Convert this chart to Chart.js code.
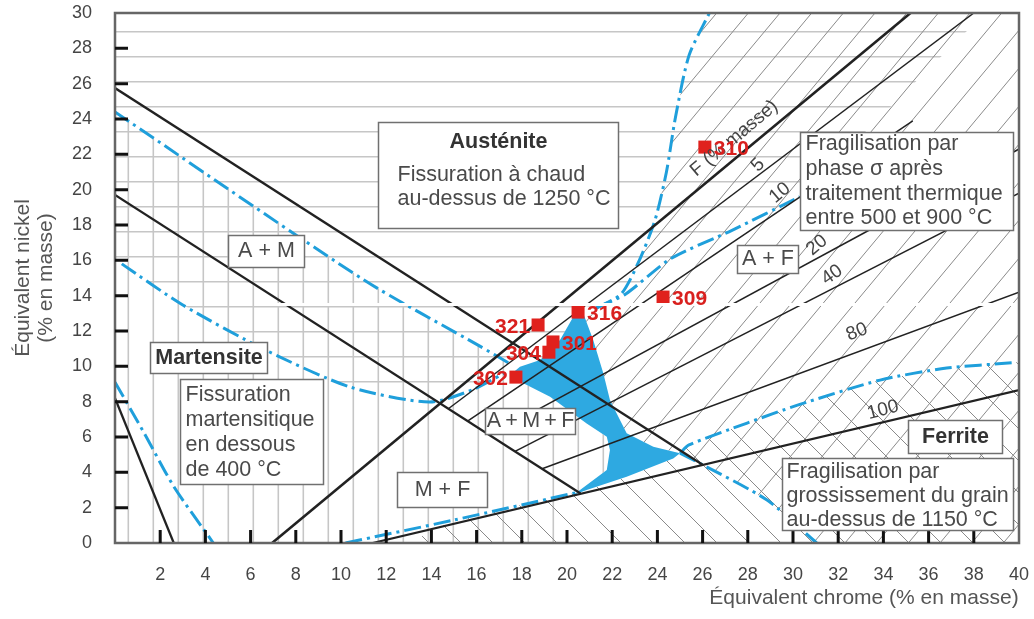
<!DOCTYPE html>
<html>
<head>
<meta charset="utf-8">
<script src="https://cdn.jsdelivr.net/npm/chart.js@4.4.1/dist/chart.umd.min.js"></script>
<style>
  html, body { margin: 0; padding: 0; background: #fff; }
  #wrap { width: 1034px; height: 619px; }
</style>
</head>
<body>
<div id="wrap"><canvas id="schaeffler"></canvas></div>
<script>
// Graduations des axes
const crTicks = [2, 4, 6, 8, 10, 12, 14, 16, 18, 20, 22, 24, 26, 28, 30, 32, 34, 36, 38];
const niTicks = [2, 4, 6, 8, 10, 12, 14, 16, 18, 20, 22, 24, 26, 28];

// Limites de phases [Cr eq, Ni eq]
const limiteAM = [[0, 25.75], [26.0, 4.43]];
const limiteM = [[0, 19.7], [20.6, 2.8]];
const limiteMF = [[0, 8.2], [2.6, 0]];
const ferrite0 = [[6.95, 0], [35.2, 30]];
const ferrite5 = [[14.75, 7.6], [38, 30]];
const ferrite10 = [[15.6, 6.9], [35.3, 23.9]];
const ferrite20 = [[16.6, 6.09], [40, 22.3]];
const ferrite40 = [[17.7, 5.19], [40, 19.8]];
const ferrite80 = [[18.9, 4.2], [40, 14.2]];
const ferrite100 = [[11.4, 0], [40, 8.66]];

// Courbes bleues (tirets-points)
const msHaut = [[0, 24.4], [11, 14.9], [16.2, 11.1], [17.4, 10.2]];
const msBas = [[0.3, 15.8], [3, 13.47], [6.7, 10.9], [10.4, 8.83], [13.9, 7.98], [15.8, 8.66], [17.2, 9.6]];
const msGauche = [[0, 9.1], [1.3, 6.2], [2.6, 3.2], [4.35, 0]];
const fissChaud = [[21.3, 13.3], [22.4, 14.1], [23.2, 16.0], [23.9, 18.3], [24.4, 21.0], [24.8, 24.1], [25.4, 27.6], [26.3, 30]];
const sigma = [[21.3, 13.3], [22.6, 14.1], [24.6, 16.1], [27.3, 17.7], [30.3, 19.6]];
const grainHaut = [[25.0, 5.08], [25.4, 5.55], [27.97, 6.79], [30.2, 7.8], [33.85, 9.22], [36.8, 9.9], [39.7, 10.2]];
const grainBas = [[25.0, 5.08], [26.0, 4.43], [28.85, 2.43], [30.9, 0.17], [31.05, 0]];
const bordInf = [[10.2, 0], [15, 1.3], [20.4, 2.85]];

// Zone bleue (domaine sans défaut)
const zoneBleue = [[20.58, 13.47], [21.16, 11.49], [21.61, 9.6], [21.9, 8.09], [22.64, 6.21], [23.82, 5.45],
  [25.0, 5.08], [24.7, 4.79], [22.64, 3.75], [20.87, 3.0], [20.28, 2.72], [21.76, 4.13], [21.9, 5.26],
  [21.76, 6.02], [20.87, 6.77], [19.25, 8.28], [18.07, 9.04], [17.48, 9.51], [17.92, 9.98], [18.81, 10.36],
  [19.69, 11.49], [20.28, 12.81]];

// Nuances d'aciers
const nuances = ['310', '309', '316', '321', '301', '304', '302'];
const nuanceCr = [26.1, 24.25, 20.49, 18.72, 19.38, 19.2, 17.74];
const nuanceNi = [22.41, 13.92, 13.07, 12.34, 11.38, 10.8, 9.39];
const nuanceCote = ['d', 'd', 'd', 'g', 'd', 'g', 'g'];

const bleu = '#1f9fdb';
const police = '"Liberation Sans", Arial, sans-serif';

function pts(arr) {
    return arr.map(p => ({ x: p[0], y: p[1] }));
}
function trait(arr, w) {
    return { data: pts(arr), showLine: true, borderColor: '#222', borderWidth: w, pointRadius: 0, fill: false, tension: 0, order: 1 };
}
function tiret(arr) {
    return { data: pts(arr), showLine: true, borderColor: bleu, borderWidth: 3, borderDash: [17, 5, 3, 5], pointRadius: 0, fill: false, tension: 0.25, order: 2 };
}

// Zones hachurées
const zoneVert = [[0, 0]].concat(msHaut, [zoneBleue[17], zoneBleue[16], zoneBleue[15], zoneBleue[14], zoneBleue[13], zoneBleue[12], zoneBleue[11], zoneBleue[10]], [[20.3, 0]]);
const zoneHoriz = [[0, 30], [0, 15.8]].concat(msBas, zoneBleue.slice(17), [zoneBleue[0]], sigma, [[38.5, 30]]);
const zoneSlash = fissChaud.slice().reverse().concat(zoneBleue.slice(0, 7), grainBas.slice(1), [[40, 0], [40, 30]]);
const zoneAnti = [[13, 0]].concat(bordInf.slice(1), [zoneBleue[9], zoneBleue[8], zoneBleue[7]], grainHaut, [[40, 10.25], [40, 0]]);

// Cadres de texte : coin haut-gauche en coordonnées du diagramme, taille en pixels
const cadres = [
    { cr: 11.64, ni: 23.83, w: 240, h: 106, l: [{ t: 'Austénite', b: 1, c: 1, dy: 20 }, { t: 'Fissuration à chaud', dx: 19, dy: 53 }, { t: 'au-dessus de 1250 °C', dx: 19, dy: 77 }] },
    { cr: 5.0, ni: 17.43, w: 76, h: 32, l: [{ t: 'A + M', c: 1, dy: 16 }] },
    { cr: 1.55, ni: 11.38, w: 117, h: 31, l: [{ t: 'Martensite', b: 1, c: 1, dy: 16 }] },
    { cr: 2.88, ni: 9.28, w: 143, h: 105, l: [{ t: 'Fissuration', dx: 5, dy: 16 }, { t: 'martensitique', dx: 5, dy: 41 }, { t: 'en dessous', dx: 5, dy: 66 }, { t: 'de 400 °C', dx: 5, dy: 91 }] },
    { cr: 16.37, ni: 7.64, w: 90, h: 26, l: [{ t: 'A\u2009+\u2009M\u2009+\u2009F', c: 1, dy: 13 }] },
    { cr: 12.48, ni: 4.02, w: 90, h: 35, l: [{ t: 'M + F', c: 1, dy: 18 }] },
    { cr: 27.52, ni: 16.86, w: 61, h: 28, l: [{ t: 'A + F', c: 1, dy: 14 }] },
    { cr: 30.31, ni: 23.26, w: 213, h: 98, l: [{ t: 'Fragilisation par', dx: 5, dy: 12 }, { t: 'phase σ après', dx: 5, dy: 37 }, { t: 'traitement thermique', dx: 5, dy: 62 }, { t: 'entre 500 et 900 °C', dx: 5, dy: 86 }] },
    { cr: 35.09, ni: 6.96, w: 94, h: 33, l: [{ t: 'Ferrite', b: 1, c: 1, dy: 17 }] },
    { cr: 29.51, ni: 4.81, w: 231, h: 72, l: [{ t: 'Fragilisation par', dx: 4, dy: 14 }, { t: 'grossissement du grain', dx: 4, dy: 38 }, { t: 'au-dessus de 1150 °C', dx: 4, dy: 62 }] }
];

// Étiquettes des lignes d'iso-ferrite
const etiquettes = [
    { t: 'F (% masse)', cr: 27.4, ni: 22.9, a: -40 },
    { t: '5', cr: 28.45, ni: 21.39, a: -45 },
    { t: '10', cr: 29.42, ni: 19.81, a: -40 },
    { t: '20', cr: 31.06, ni: 16.86, a: -40 },
    { t: '40', cr: 31.73, ni: 15.17, a: -35 },
    { t: '80', cr: 32.83, ni: 11.94, a: -22 },
    { t: '100', cr: 33.98, ni: 7.53, a: -15 }
];

const dessin = {
    id: 'dessin',
    beforeDatasetsDraw(chart) {
        const { ctx, chartArea: a, scales: { x, y } } = chart;
        const chemin = arr => {
            ctx.beginPath();
            arr.forEach((p, i) => {
                const px = x.getPixelForValue(p[0]), py = y.getPixelForValue(p[1]);
                if (i) ctx.lineTo(px, py); else ctx.moveTo(px, py);
            });
            ctx.closePath();
        };
        function hachure(poly, type) {
            ctx.save();
            ctx.beginPath();
            ctx.rect(a.left, a.top, a.width, a.height);
            ctx.clip();
            chemin(poly);
            ctx.clip();
            ctx.beginPath();
            if (type === 'h') {
                for (let yy = a.top + 18.7; yy < a.bottom; yy += 25) { ctx.moveTo(a.left, yy); ctx.lineTo(a.right, yy); }
                ctx.strokeStyle = '#c6c6c6'; ctx.lineWidth = 1.6;
            } else if (type === 'v') {
                for (let xx = a.left + 13.3; xx < a.right; xx += 25) { ctx.moveTo(xx, a.top); ctx.lineTo(xx, a.bottom); }
                ctx.strokeStyle = '#c6c6c6'; ctx.lineWidth = 1.6;
            } else if (type === '/') {
                for (let c = a.top; c < a.bottom + 1.2 * a.width; c += 38) { ctx.moveTo(a.left, c); ctx.lineTo(a.right, c - 1.2 * a.width); }
                ctx.strokeStyle = '#8a8a8a'; ctx.lineWidth = 1;
            } else {
                for (let c = a.top - a.width; c < a.bottom; c += 32) { ctx.moveTo(a.left, c); ctx.lineTo(a.right, c + a.width); }
                ctx.strokeStyle = '#8a8a8a'; ctx.lineWidth = 1;
            }
            ctx.stroke();
            ctx.restore();
        }
        hachure(zoneHoriz, 'h');
        hachure(zoneVert, 'v');
        hachure(zoneSlash, '/');
        hachure(zoneAnti, '\\');

        ctx.save();
        chemin(zoneBleue);
        ctx.fillStyle = '#2ea9e1';
        ctx.fill();
        ctx.restore();
    },
    afterDatasetsDraw(chart) {
        const { ctx, chartArea: a, scales: { x, y } } = chart;
        ctx.save();

        // bande blanche du scan
        ctx.fillStyle = '#fff';
        ctx.fillRect(277, 303, 1034 - 277, 3);

        // cadre
        ctx.strokeStyle = '#666';
        ctx.lineWidth = 2.5;
        ctx.strokeRect(a.left, a.top, a.width, a.height);

        // graduations
        ctx.strokeStyle = '#111';
        ctx.lineWidth = 3;
        ctx.beginPath();
        niTicks.forEach(v => { const py = y.getPixelForValue(v); ctx.moveTo(a.left, py); ctx.lineTo(a.left + 13, py); });
        crTicks.forEach(v => { const px = x.getPixelForValue(v); ctx.moveTo(px, a.bottom); ctx.lineTo(px, a.bottom - 13); });
        ctx.stroke();

        // étiquettes des lignes
        ctx.fillStyle = '#444';
        ctx.font = '19px ' + police;
        ctx.textAlign = 'center';
        ctx.textBaseline = 'middle';
        etiquettes.forEach(e => {
            ctx.save();
            ctx.translate(x.getPixelForValue(e.cr), y.getPixelForValue(e.ni));
            ctx.rotate(e.a * Math.PI / 180);
            ctx.fillText(e.t, 0, 0);
            ctx.restore();
        });

        // cadres de texte
        cadres.forEach(b => {
            const bx = Math.round(x.getPixelForValue(b.cr)) + 0.5, by = Math.round(y.getPixelForValue(b.ni)) + 0.5;
            ctx.fillStyle = '#fff';
            ctx.fillRect(bx, by, b.w, b.h);
            ctx.strokeStyle = '#707070';
            ctx.lineWidth = 1.5;
            ctx.strokeRect(bx, by, b.w, b.h);
            b.l.forEach(l => {
                ctx.font = (l.b ? 'bold ' : '') + '21.5px ' + police;
                ctx.fillStyle = l.b ? '#333' : '#4a4a4a';
                ctx.textBaseline = 'middle';
                if (l.c) { ctx.textAlign = 'center'; ctx.fillText(l.t, bx + b.w / 2, by + l.dy); }
                else { ctx.textAlign = 'left'; ctx.fillText(l.t, bx + l.dx, by + l.dy); }
            });
        });

        // noms des nuances
        const meta = chart.getDatasetMeta(0);
        ctx.font = 'bold 21px ' + police;
        ctx.fillStyle = '#d9201e';
        ctx.textBaseline = 'middle';
        meta.data.forEach((pt, i) => {
            if (nuanceCote[i] === 'd') { ctx.textAlign = 'left'; ctx.fillText(nuances[i], pt.x + 9, pt.y + 2); }
            else { ctx.textAlign = 'right'; ctx.fillText(nuances[i], pt.x - 8, pt.y + 2); }
        });

        // titres des axes
        ctx.fillStyle = '#555';
        ctx.font = '21px ' + police;
        ctx.textAlign = 'center';
        ctx.fillText('Équivalent chrome (% en masse)', 864, 598);
        ctx.save();
        ctx.translate(23, 278);
        ctx.rotate(-Math.PI / 2);
        ctx.fillText('Équivalent nickel', 0, 0);
        ctx.fillText('(% en masse)', 0, 23);
        ctx.restore();

        ctx.restore();
    }
};

Chart.defaults.font.family = police;

new Chart(document.getElementById('schaeffler'), {
    type: 'scatter',
    data: {
        datasets: [
            {
                data: nuanceCr.map((c, i) => ({ x: c, y: nuanceNi[i] })),
                pointStyle: 'rect', pointRadius: 9.2, backgroundColor: '#e0211d', borderColor: '#e0211d', borderWidth: 0, order: 0
            },
            trait(limiteAM, 2.3),
            trait(limiteM, 2.3),
            trait(limiteMF, 2.3),
            trait(ferrite0, 2.6),
            trait(ferrite5, 1.5),
            trait(ferrite10, 1.5),
            trait(ferrite20, 1.5),
            trait(ferrite40, 1.5),
            trait(ferrite80, 1.5),
            trait(ferrite100, 2.2),
            tiret(msHaut),
            tiret(msBas),
            tiret(msGauche),
            tiret(fissChaud),
            tiret(sigma),
            tiret(grainHaut),
            tiret(grainBas),
            tiret(bordInf)
        ]
    },
    options: {
        responsive: true,
        maintainAspectRatio: false,
        animation: false,
        events: [],
        layout: { padding: { top: 13, right: 15, left: 0, bottom: 0 } },
        plugins: { legend: { display: false }, tooltip: { enabled: false } },
        scales: {
            x: {
                type: 'linear', min: 0, max: 40,
                grid: { display: false }, border: { display: false },
                ticks: { stepSize: 2, color: '#454545', font: { size: 18 }, padding: 13, maxRotation: 0, autoSkip: false,
                    callback: v => v === 0 ? '' : v },
                afterFit: s => { s.height = 76; s.paddingLeft = 0; s.paddingRight = 0; }
            },
            y: {
                type: 'linear', min: 0, max: 30,
                grid: { display: false }, border: { display: false },
                ticks: { stepSize: 2, color: '#454545', font: { size: 18 }, padding: 15, autoSkip: false },
                afterFit: s => { s.width = 115; s.paddingTop = 0; s.paddingBottom = 0; }
            }
        }
    },
    plugins: [dessin]
});
</script>
</body>
</html>
